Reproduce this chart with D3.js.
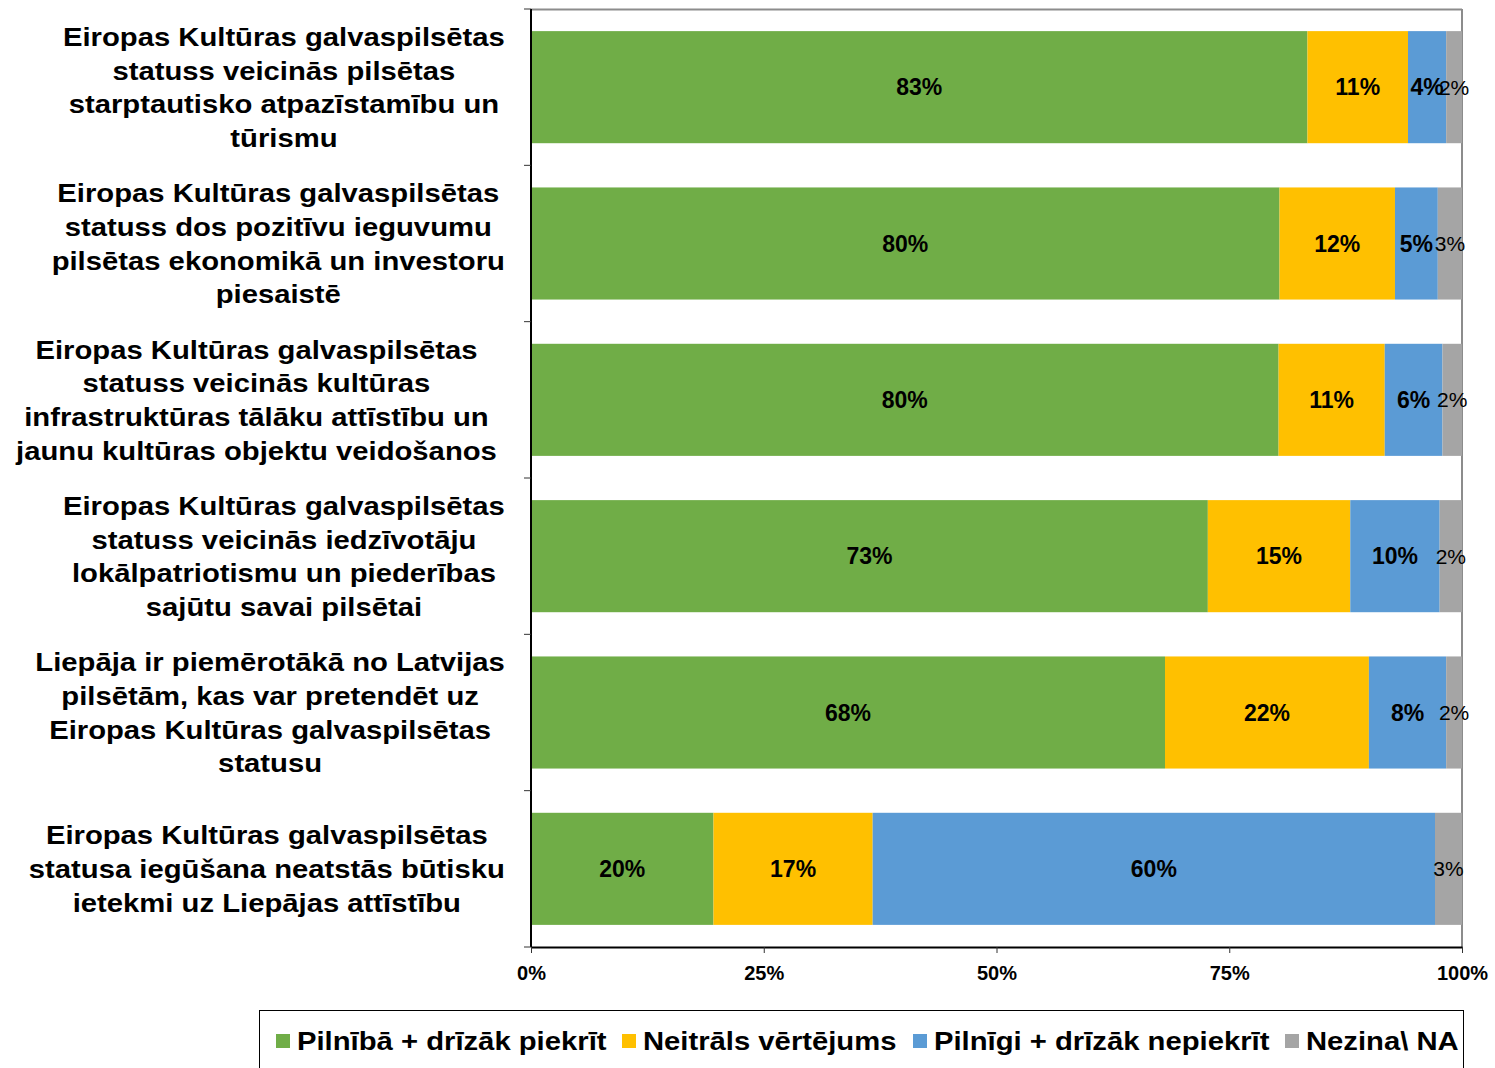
<!DOCTYPE html>
<html><head><meta charset="utf-8">
<script src="https://cdn.jsdelivr.net/npm/d3@7"></script>
<style>body{margin:0;background:#fff}svg{display:block}text{font-family:"Liberation Sans",Arial,sans-serif}</style>
</head><body>
<svg id="c" width="1495" height="1068"></svg>
<script>
const categories = [
  ["Eiropas Kultūras galvaspilsētas","statuss veicinās pilsētas","starptautisko atpazīstamību un","tūrismu"],
  ["Eiropas Kultūras galvaspilsētas","statuss dos pozitīvu ieguvumu","pilsētas ekonomikā un investoru","piesaistē"],
  ["Eiropas Kultūras galvaspilsētas","statuss veicinās kultūras","infrastruktūras tālāku attīstību un","jaunu kultūras objektu veidošanos"],
  ["Eiropas Kultūras galvaspilsētas","statuss veicinās iedzīvotāju","lokālpatriotismu un piederības","sajūtu savai pilsētai"],
  ["Liepāja ir piemērotākā no Latvijas","pilsētām, kas var pretendēt uz","Eiropas Kultūras galvaspilsētas","statusu"],
  ["Eiropas Kultūras galvaspilsētas","statusa iegūšana neatstās būtisku","ietekmi uz Liepājas attīstību"]
];
const seriesNames = ["Pilnībā + drīzāk piekrīt","Neitrāls vērtējums","Pilnīgi + drīzāk nepiekrīt","Nezina\\ NA"];
const agree    = [83.4, 80.4, 80.3, 72.7, 68.1, 19.6];
const neutral  = [10.8, 12.4, 11.4, 15.3, 21.9, 17.1];
const disagree = [4.1, 4.6, 6.2, 9.6, 8.3, 60.4];
const unknown  = [1.7, 2.6, 2.1, 2.4, 1.7, 2.9];
const colors = ["#70AD47","#FFC000","#5B9BD5","#A5A5A5"];
const xTicks = [0, 25, 50, 75, 100];

const svg = d3.select("#c");
const L = 531, R = 1462, T = 9, B = 947;
const SX = 1.125;
const x = d3.scaleLinear().domain([0,100]).range([L,R]);
const y = d3.scaleBand().domain(d3.range(categories.length)).range([T,B]).paddingInner(0.283).paddingOuter(0.1415);

const series = [agree, neutral, disagree, unknown];
const rows = categories.map((c,i)=>{ const o={i}; series.forEach((s,k)=>o["s"+k]=s[i]); return o; });
const stack = d3.stack().keys(["s0","s1","s2","s3"])(rows);

// plot border (top/right gray)
svg.append("line").attr("x1",L).attr("x2",R).attr("y1",T+0.5).attr("y2",T+0.5).attr("stroke","#8c8c8c").attr("stroke-width",2);
svg.append("line").attr("x1",R).attr("x2",R).attr("y1",T).attr("y2",B).attr("stroke","#8c8c8c").attr("stroke-width",2);

stack.forEach((layer,k)=>{
  svg.append("g").selectAll("rect").data(layer).join("rect")
    .attr("x",d=>x(d[0])).attr("width",d=>x(d[1])-x(d[0]))
    .attr("y",(d,i)=>y(i)).attr("height",y.bandwidth())
    .attr("fill",colors[k]);
});
stack.forEach((layer,k)=>{
  svg.append("g").selectAll("text").data(layer).join("text")
    .attr("x",d=>(x(d[0])+x(d[1]))/2).attr("y",(d,i)=>y(i)+y.bandwidth()/2)
    .attr("dy","0.36em").attr("text-anchor","middle")
    .attr("font-size",k===3?21:23).attr("font-weight",k===3?"normal":"bold").attr("fill","#000")
    .text(d=>Math.round(d[1]-d[0])+"%");
});

// axes
const xAxis = d3.axisBottom(x).tickValues(xTicks).tickFormat(d=>d+"%").tickSize(6).tickSizeOuter(0);
const gx = svg.append("g").attr("transform",`translate(0,${B})`).call(xAxis);
gx.select(".domain").attr("stroke","#000").attr("stroke-width",2);
gx.selectAll(".tick line").attr("stroke","#333");
gx.selectAll(".tick text").attr("font-size",20).attr("font-weight","bold").attr("fill","#000").attr("y",26).attr("dy","0.36em")
  .style("font-family",'"Liberation Sans",Arial,sans-serif');

svg.append("line").attr("x1",L).attr("x2",L).attr("y1",T).attr("y2",B).attr("stroke","#000").attr("stroke-width",2);
const bounds = d3.range(categories.length+1).map(i=>T+i*y.step());
svg.append("g").selectAll("line").data(bounds).join("line")
  .attr("x1",L-7).attr("x2",L).attr("y1",d=>d).attr("y2",d=>d).attr("stroke","#333");

// category labels
const lh = 33.7;
categories.forEach((lines,i)=>{
  const g = svg.append("g");
  const cy = y(i)+y.bandwidth()/2;
  const t = g.selectAll("text").data(lines).join("text")
    .attr("dy","0.36em")
    .attr("text-anchor","middle").attr("font-size",26).attr("font-weight","bold").attr("fill","#000")
    .text(d=>d);
  let maxW = 0; t.each(function(){ maxW=Math.max(maxW,this.getComputedTextLength()); });
  const cx = (i===2?497:505) - maxW*SX/2;
  t.attr("transform",(d,j)=>`translate(${cx},${cy+(j-(lines.length-1)/2)*lh}) scale(${SX},1)`);
});

// legend
svg.append("rect").attr("x",259.5).attr("y",1010.5).attr("width",1204).attr("height",80).attr("fill","none").attr("stroke","#000");
const legX = [276, 622, 913, 1285];
seriesNames.forEach((n,k)=>{
  svg.append("rect").attr("x",legX[k]).attr("y",1034).attr("width",14).attr("height",14).attr("fill",colors[k]);
  svg.append("text").attr("transform",`translate(${legX[k]+21},1041) scale(${SX},1)`).attr("dy","0.36em").attr("font-size",26).attr("font-weight","bold").attr("fill","#000").text(n);
});
</script>
</body></html>
